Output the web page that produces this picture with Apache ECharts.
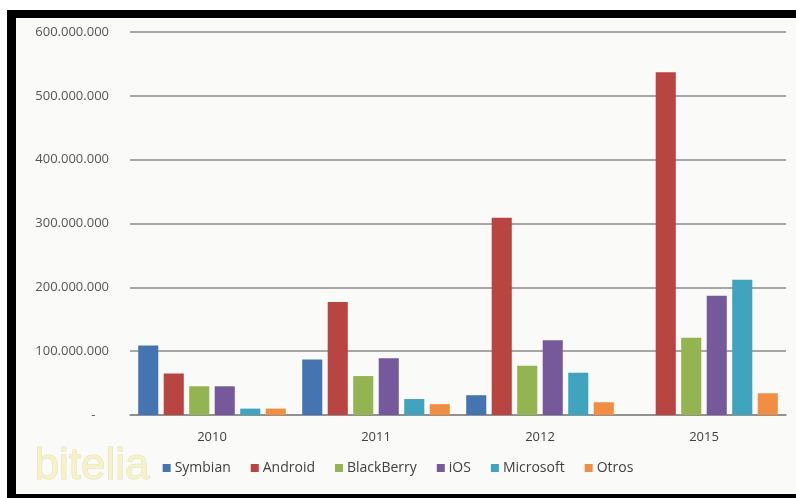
<!DOCTYPE html>
<html>
<head>
<meta charset="utf-8">
<script src="https://cdn.jsdelivr.net/npm/echarts@6/dist/echarts.min.js"></script>
<style>
  html, body { margin: 0; padding: 0; background: #ffffff; }
  #frame {
    position: absolute; left: 7px; top: 10px; width: 780px; height: 476px;
    border-top: 8px solid #000; border-left: 9px solid #000; border-bottom: 6px solid #000;
    background: #fafaf8;
  }
  #main { position: absolute; left: 0; top: 0; width: 796px; height: 498px; }
</style>
</head>
<body>
<div id="frame"></div>
<div id="main"></div>
<script>
  const years = ['2010', '2011', '2012', '2015']
  const symbian = [109000000, 87000000, 31000000, null]
  const android = [65000000, 177000000, 309000000, 537000000]
  const blackberry = [45000000, 61000000, 77000000, 121000000]
  const ios = [45000000, 89000000, 117000000, 187000000]
  const microsoft = [10000000, 25000000, 66000000, 212000000]
  const otros = [10000000, 17000000, 20000000, 34000000]

  const names = ['Symbian', 'Android', 'BlackBerry', 'iOS', 'Microsoft', 'Otros']
  const colors = ['#4674b0', '#b94543', '#93b451', '#76599a', '#41a4bf', '#f08f43']
  const values = [symbian, android, blackberry, ios, microsoft, otros]

  const fmt = v => {
    if (v === 0) return '-    '
    return String(v).replace(/\B(?=(\d{3})+(?!\d))/g, '.')
  }

  var myChart = echarts.init(document.getElementById('main'))
  myChart.setOption({
    backgroundColor: 'transparent',
    textStyle: { fontFamily: 'Open Sans' },
    color: colors,
    grid: { left: 130, right: 10, top: 32, bottom: 83 },
    legend: {
      data: names,
      bottom: 18,
      left: 'center',
      icon: 'rect',
      itemWidth: 8,
      itemHeight: 8,
      itemGap: 20,
      textStyle: { fontSize: 14, color: '#404040', padding: [0, 0, 0, -1] }
    },
    xAxis: {
      type: 'category',
      data: years,
      axisTick: { show: false },
      axisLine: { lineStyle: { color: '#8a8a8a', width: 1.5 } },
      axisLabel: { fontSize: 13, color: '#404040', margin: 16 }
    },
    yAxis: {
      type: 'value',
      min: 0,
      max: 600000000,
      interval: 100000000,
      axisLine: { show: false },
      axisTick: { show: false },
      axisLabel: { formatter: fmt, fontSize: 13, color: '#555555', margin: 21 },
      splitLine: { lineStyle: { color: '#8a8a8a', width: 1.5 } }
    },
    graphic: [
      {
        type: 'text',
        left: 34,
        top: 444,
        style: {
          text: 'bitelia',
          font: '44px "Liberation Sans"',
          fill: '#f7f2c6',
          stroke: '#e2ddbd',
          lineWidth: 1
        }
      }
    ],
    series: names.map((name, i) => ({
      name: name,
      type: 'bar',
      data: values[i],
      barGap: '27%',
      barCategoryGap: '10%',
      itemStyle: { color: colors[i] }
    }))
  })
</script>
</body>
</html>
